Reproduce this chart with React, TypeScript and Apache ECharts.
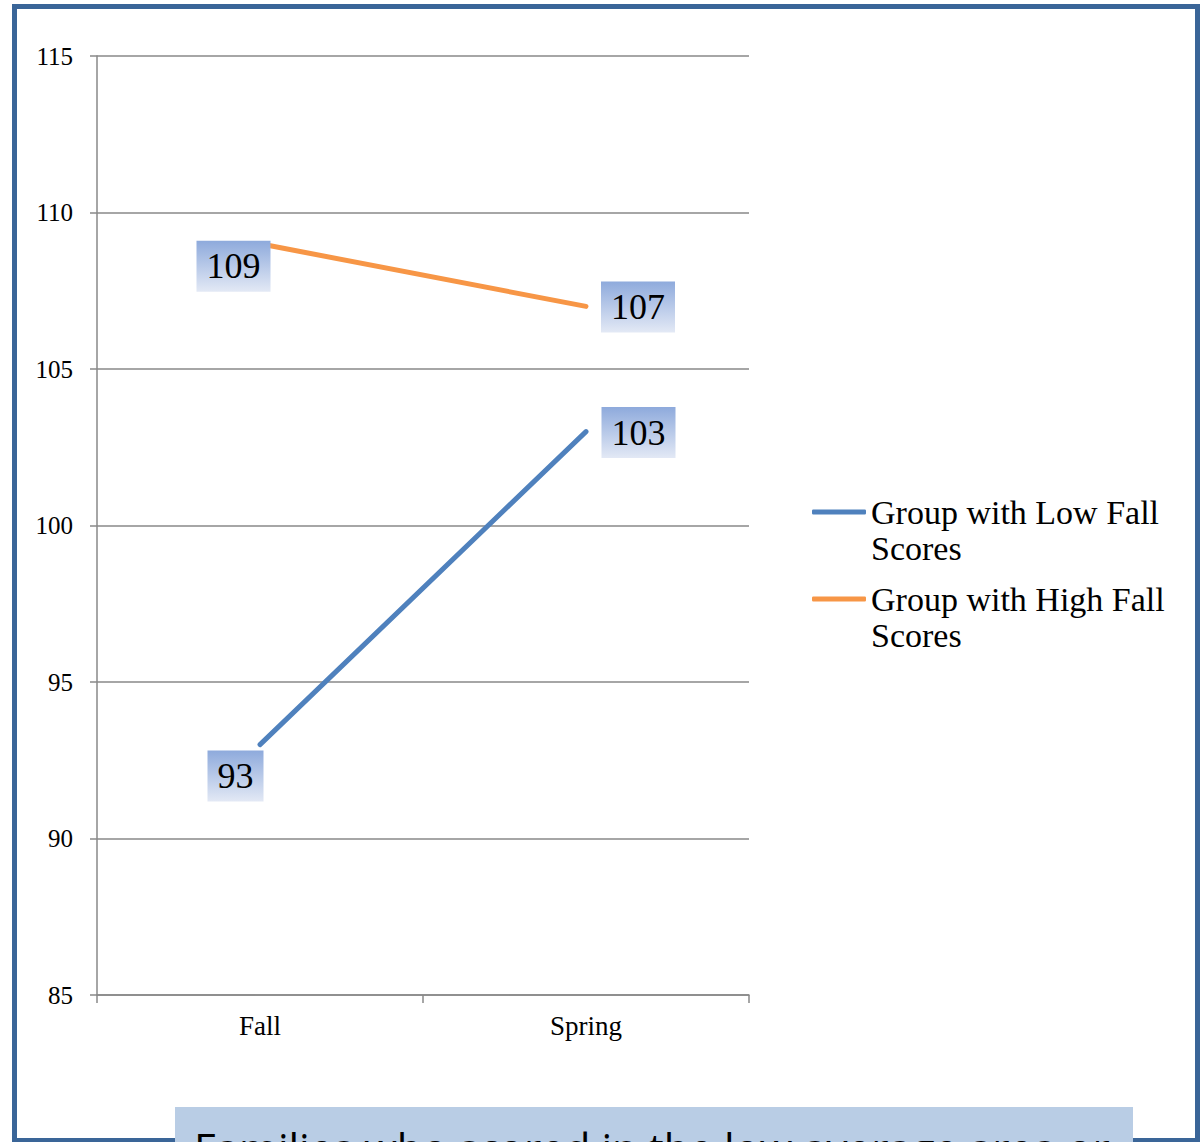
import React, { useEffect, useRef } from "react";
import * as echarts from "echarts";

// Two seasons, two groups of families
const categories = ["Fall", "Spring"];
const lowFallGroup = [93, 103];
const highFallGroup = [109, 107];
const seriesNames = ["Group with Low Fall Scores", "Group with High Fall Scores"];
const yMin = 85;
const yMax = 115;
const yStep = 5;
const noteText = "Families who scored in the low average area or";

// Label placement (px offset from each point)
const lowLabelOffsets = [[-24.5, 31.5], [52.5, 1]];
const highLabelOffsets = [[-26.5, 22.5], [52, 0.5]];

const SERIF = "'Liberation Serif', 'Times New Roman', serif";

const labelBg = new echarts.graphic.LinearGradient(0, 0, 0, 1, [
  { offset: 0, color: "#8eaadc" },
  { offset: 1, color: "#e3e9f5" },
]);

function buildData(values: number[], offsets: number[][]) {
  return values.map((v, i) => ({
    value: v,
    label: { offset: offsets[i] },
  }));
}

// Legend entry whose first text line sits level with its swatch:
// a leading blank line keeps the wrapped name's first row on the icon's centre.
function legendFor(name: string, top: number) {
  return {
    data: [name],
    orient: "vertical",
    left: 812,
    top,
    padding: 0,
    icon: "roundRect",
    itemWidth: 54,
    itemHeight: 5,
    selectedMode: false,
    formatter: (n: string) => "\n" + n.replace(/ Scores$/, "\nScores"),
    textStyle: {
      fontFamily: SERIF,
      fontSize: 34,
      lineHeight: 36,
      color: "#000",
    },
  };
}

export default function App() {
  const ref = useRef<HTMLDivElement>(null);

  useEffect(() => {
    if (!ref.current) return;
    const chart = echarts.init(ref.current, undefined, { renderer: "svg" });

    const lineLabel = {
      show: true,
      position: "inside",
      fontFamily: SERIF,
      fontSize: 36,
      lineHeight: 43,
      color: "#000",
      backgroundColor: labelBg,
      padding: [4, 10, 4, 10],
    };

    chart.setOption({
      animation: false,
      backgroundColor: "#fff",
      grid: { left: 97, right: 452, top: 56, bottom: 147, containLabel: false },
      legend: [legendFor(seriesNames[0], 458), legendFor(seriesNames[1], 545)],
      xAxis: {
        type: "category",
        data: categories,
        boundaryGap: true,
        axisLine: { show: true, lineStyle: { color: "#888", width: 1.5 } },
        axisTick: { show: true, length: 8, lineStyle: { color: "#888", width: 1.5 } },
        axisLabel: { fontFamily: SERIF, fontSize: 27, color: "#000", margin: 17 },
        splitLine: { show: false },
      },
      yAxis: {
        type: "value",
        min: yMin,
        max: yMax,
        interval: yStep,
        axisLine: { show: true, lineStyle: { color: "#888", width: 1.5 } },
        axisTick: { show: true, length: 7, lineStyle: { color: "#888", width: 1.5 } },
        axisLabel: { fontFamily: SERIF, fontSize: 25, color: "#000", margin: 24 },
        splitLine: { show: true, lineStyle: { color: "#888", width: 1.5 } },
      },
      series: [
        {
          name: seriesNames[0],
          type: "line",
          data: buildData(lowFallGroup, lowLabelOffsets),
          color: "#4f81bd",
          symbol: "circle",
          symbolSize: 1,
          lineStyle: { width: 5, color: "#4f81bd", cap: "round" },
          label: lineLabel,
          z: 3,
        },
        {
          name: seriesNames[1],
          type: "line",
          data: buildData(highFallGroup, highLabelOffsets),
          color: "#f79646",
          symbol: "circle",
          symbolSize: 1,
          lineStyle: { width: 5, color: "#f79646", cap: "round" },
          label: lineLabel,
          z: 3,
        },
      ],
      graphic: [
        {
          type: "rect",
          z: 0,
          silent: true,
          shape: { x: 14.5, y: 6.5, width: 1183, height: 1134 },
          style: { fill: "none", stroke: "#3a6598", lineWidth: 5 },
        },
        {
          type: "group",
          z: 10,
          children: [
            {
              type: "rect",
              shape: { x: 175, y: 1107, width: 958, height: 40 },
              style: { fill: "#b9cde5" },
            },
            {
              type: "text",
              x: 194,
              y: 1126,
              style: {
                text: noteText,
                fontFamily: "'Open Sans', sans-serif",
                fontSize: 42,
                fill: "#000",
                verticalAlign: "top",
              },
            },
          ],
        },
      ],
    });

    return () => chart.dispose();
  }, []);

  return (
    <div
      ref={ref}
      style={{ position: "fixed", left: 0, top: 0, width: 1201, height: 1142 }}
    />
  );
}
